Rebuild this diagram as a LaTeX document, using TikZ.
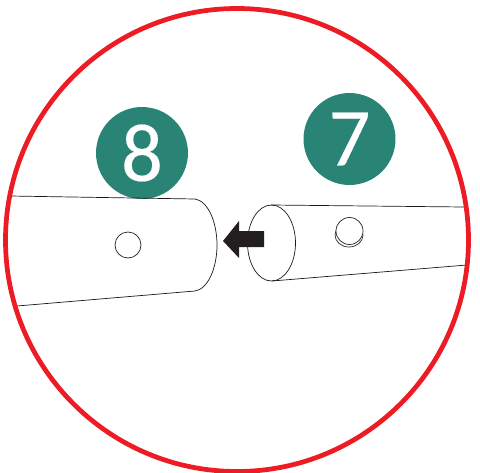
\documentclass[tikz,border=0pt]{standalone}
\usepackage{fontspec}
\setmainfont[FakeBold=0.2]{Carlito}
\usepackage{tikz}

\definecolor{badgeteal}{HTML}{2A8475}
\definecolor{ringred}{HTML}{ED1C24}
\definecolor{arrowblack}{HTML}{231F20}

\tikzset{
    badge/.style={
        circle,
        fill=badgeteal,
        text=white,
        inner sep=0pt,
        minimum size=1.84cm,
        font=\fontsize{47}{47}\selectfont
    },
    tube/.style={draw=black!90, line width=0.4pt},
    dowel/.style={draw=black!85, line width=0.4pt, fill=white}
}

\begin{document}
\begin{tikzpicture}[x=0.02cm,y=-0.02cm]
\useasboundingbox (0,0) rectangle (480,473);

\node[badge] (badge8) at (142,153) {8\hspace{3pt}};
\node[badge] (badge7) at (349.5,139) {7\hspace{5pt}};

% left part
\draw[tube] (10,196) -- (195,199)
    .. controls (208,201) and (217,222) .. (217,245)
    .. controls (217,268) and (208,289) .. (195,291)
    -- (17,306);
\draw[dowel] (128,245) circle (13);

% right part
\draw[tube] (271,205) -- (464,207);
\draw[tube] (272,281) -- (467,265);
\draw[tube] (271.5,243) ellipse (24 and 38);
\draw[dowel] (349,235) ellipse (14 and 12);
\draw[dowel] (349.5,231) circle (13.5);

% arrow
\fill[arrowblack] (223,241) -- (239,221) -- (239,231) -- (264,231)
    -- (264,247) -- (239,247) -- (239,258) -- cycle;

\draw[ringred, line width=2.7pt] (237,240) circle (231.5);
\end{tikzpicture}
\end{document}
